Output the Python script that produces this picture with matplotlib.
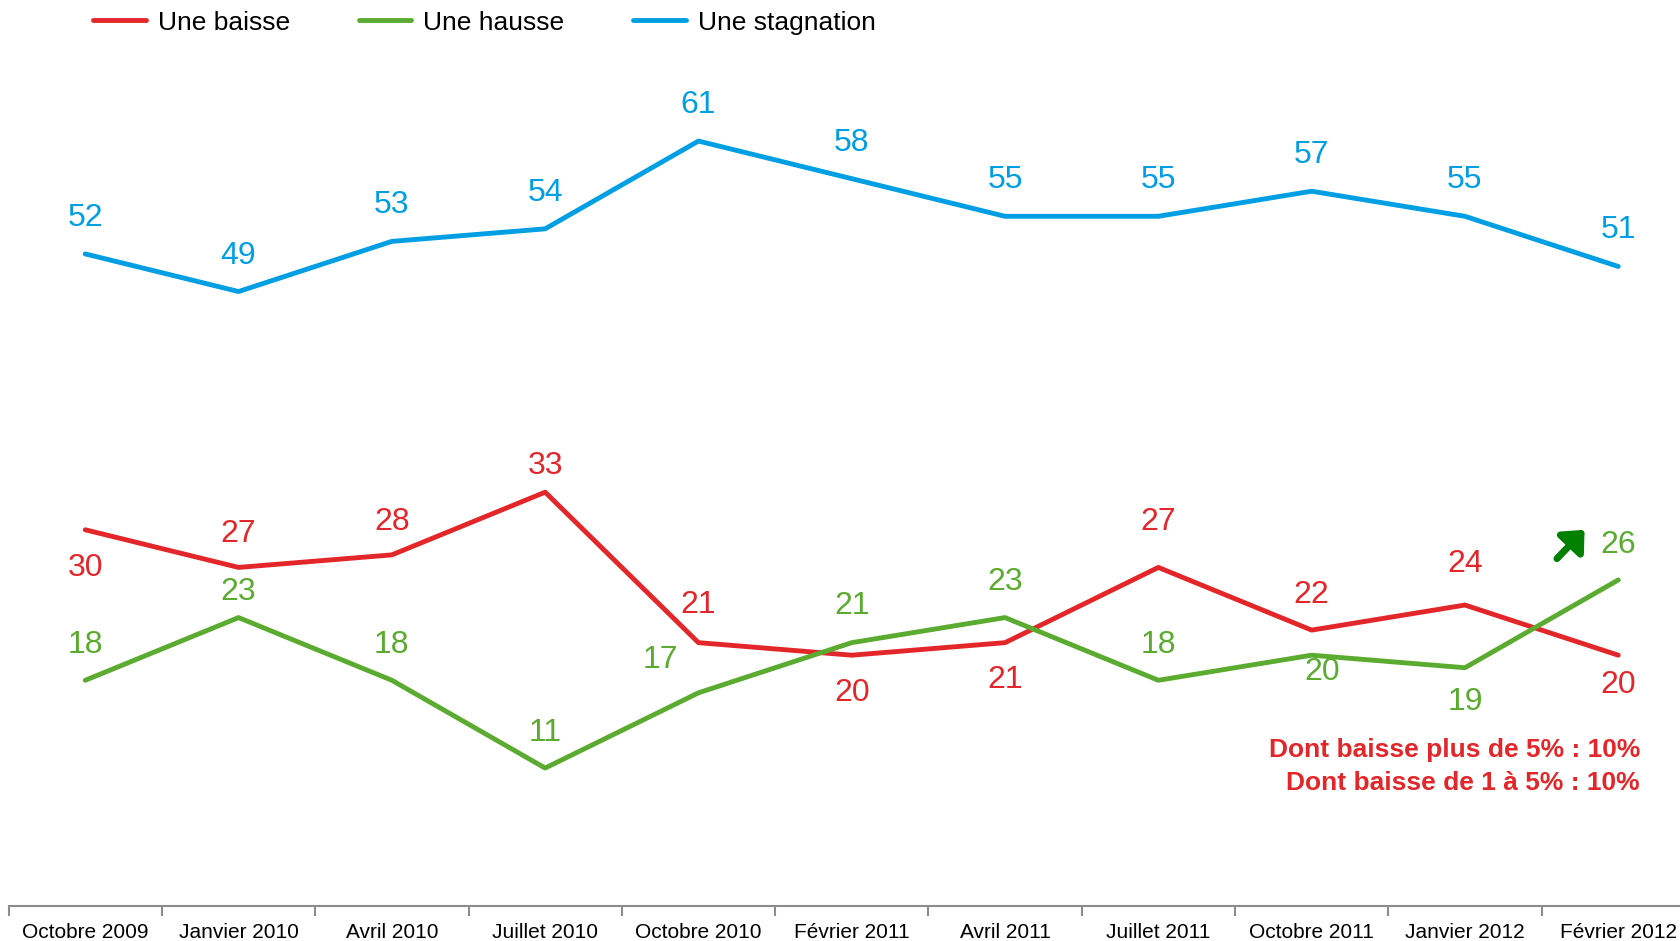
import numpy as np
import matplotlib
matplotlib.use("Agg")
import matplotlib.pyplot as plt

plt.rcParams['font.family'] = ['Liberation Sans', 'DejaVu Sans']

periods = ["Octobre 2009", "Janvier 2010", "Avril 2010", "Juillet 2010",
           "Octobre 2010", "Février 2011", "Avril 2011", "Juillet 2011",
           "Octobre 2011", "Janvier 2012", "Février 2012"]
baisse = [30, 27, 28, 33, 21, 20, 21, 27, 22, 24, 20]
hausse = [18, 23, 18, 11, 17, 21, 23, 18, 20, 19, 26]
stagnation = [52, 49, 53, 54, 61, 58, 55, 55, 57, 55, 51]

RED = "#E3262A"
GREEN = "#5AAB2F"
BLUE = "#009FE3"

# label offsets in pixels (dx, dy) for each point
off_baisse = [(0, -38), (0, 33), (0, 33), (0, 26), (0, 38), (0, -38),
              (0, -37), (0, 45), (0, 35), (0, 41), (0, -30)]
off_hausse = [(0, 35), (0, 26), (0, 35), (0, 35), (-38, 33), (0, 37),
              (0, 36), (0, 35), (11, -17), (0, -34), (0, 35)]
off_stag = [(0, 36)] * 11

W, H = 1681, 941
fig = plt.figure(figsize=(W / 100, H / 100), dpi=100)
x0 = 8.6
cat_w = 153.3
ax = fig.add_axes([x0 / W, 35 / H, 11 * cat_w / W, 906 / H])
ax.set_xlim(-0.5, 10.5)
ax.set_ylim(0, 906 / 12.54)

x = np.arange(len(periods))
series = [("Une baisse", baisse, RED, off_baisse),
          ("Une hausse", hausse, GREEN, off_hausse),
          ("Une stagnation", stagnation, BLUE, off_stag)]
for name, vals, col, offs in series:
    ax.plot(x, vals, color=col, lw=3.5, label=name, solid_capstyle='round')
    for xi, v, (dx, dy) in zip(x, vals, offs):
        ax.annotate(str(v), (xi, v), xytext=(dx, dy), textcoords='offset pixels',
                    ha='center', va='center', fontsize=23, color=col)

# green arrow near last point
ax.annotate("", xy=(9.78, 30.0), xytext=(9.6, 27.7),
            arrowprops=dict(arrowstyle='-|>,head_length=0.55,head_width=0.5',
                            lw=5, color='#008000', shrinkA=0, shrinkB=0,
                            mutation_scale=20))

fig.text(1640 / W, 1 - 750 / H, "Dont baisse plus de 5% : 10%", ha='right',
         va='center', fontsize=19, fontweight='bold', color=RED)
fig.text(1640 / W, 1 - 783 / H, "Dont baisse de 1 à 5% : 10%", ha='right',
         va='center', fontsize=19, fontweight='bold', color=RED)

for s in ['top', 'right', 'left']:
    ax.spines[s].set_visible(False)
ax.spines['bottom'].set_color('#8C8C8C')
ax.spines['bottom'].set_linewidth(1.5)
ax.set_yticks([])
ax.set_xticks(x)
ax.set_xticklabels(periods, fontsize=15)
ax.tick_params(axis='x', which='major', length=0, pad=12)
ax.set_xticks(np.arange(-0.5, 11, 1), minor=True)
ax.tick_params(axis='x', which='minor', length=7, width=1.5, color='#8C8C8C')

ax.legend(loc='upper left', bbox_to_anchor=(74 / (11 * cat_w), 1.0), ncol=3,
          frameon=False, fontsize=19, handlelength=2.0, handletextpad=0.45,
          columnspacing=2.6, borderaxespad=0)

fig.savefig("out.png", dpi=100)
